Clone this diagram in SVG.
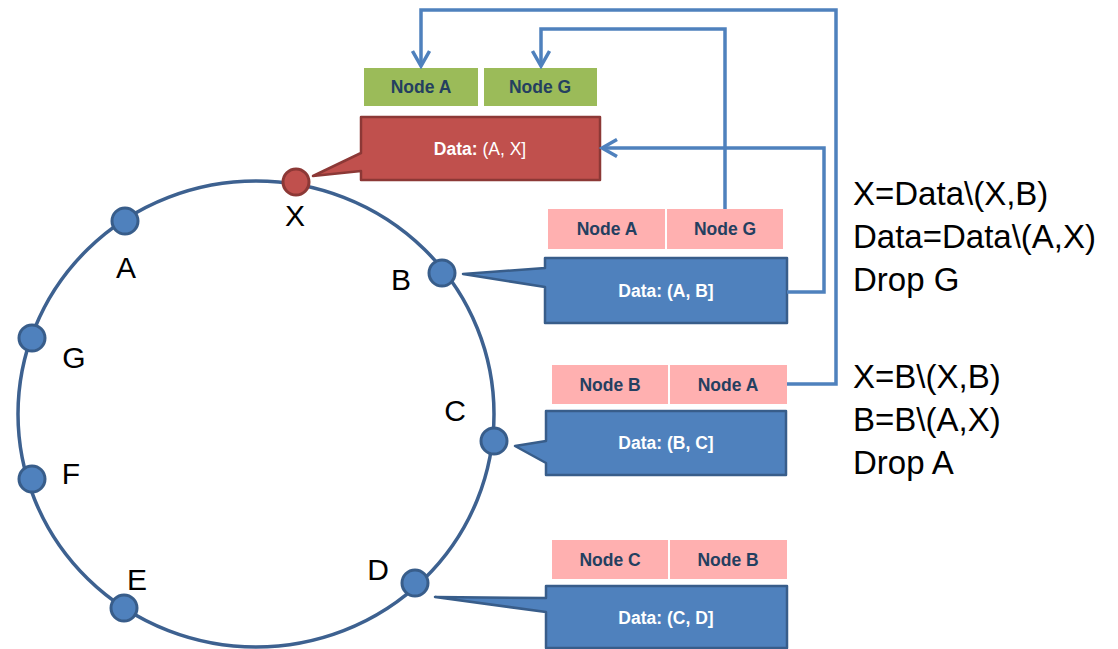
<svg xmlns="http://www.w3.org/2000/svg" width="1118" height="649" viewBox="0 0 1118 649">
<style>
.ring{fill:none;stroke:#3D6190;stroke-width:3.5}
.nd{fill:#4F81BD;stroke:#385D8A;stroke-width:3}
.ndx{fill:#C0504D;stroke:#8C3836;stroke-width:3}
.lbl{font-family:"Liberation Sans",Arial,sans-serif;font-size:30px;fill:#000}
.note{font-family:"Liberation Sans",Arial,sans-serif;font-size:33px;fill:#000}
.green{fill:#9BBB59}
.pink{fill:#FFB0B0}
.tag{font-family:"Liberation Sans",Arial,sans-serif;font-size:17.5px;font-weight:bold;fill:#243F60;text-anchor:middle}
.blue{fill:#4F81BD;stroke:#385D8A;stroke-width:2.5;stroke-linejoin:round}
.red{fill:#C0504D;stroke:#8C3836;stroke-width:2.5;stroke-linejoin:round}
.dt{font-family:"Liberation Sans",Arial,sans-serif;font-size:17.5px;font-weight:bold;fill:#fff;text-anchor:middle}
.conn{fill:none;stroke:#4F81BD;stroke-width:3.5;stroke-linejoin:miter}
</style>
<defs>
<marker id="arr" viewBox="0 0 20 20" markerUnits="userSpaceOnUse" markerWidth="20" markerHeight="20" refX="17" refY="10" orient="auto">
<path d="M2,1.5 L17,10 L2,18.5" fill="none" stroke="#4F81BD" stroke-width="3.5"/>
</marker>
</defs>

<g id="ring">
<ellipse class="ring" cx="256" cy="414" rx="238" ry="233"/>
</g>

<g id="node-X"><circle class="ndx" cx="296" cy="182" r="13"/><text class="lbl" x="295" y="226" text-anchor="middle">X</text></g>
<g id="node-A"><circle class="nd" cx="125" cy="221" r="13"/><text class="lbl" x="126" y="278" text-anchor="middle">A</text></g>
<g id="node-G"><circle class="nd" cx="32" cy="338" r="13"/><text class="lbl" x="74" y="368" text-anchor="middle">G</text></g>
<g id="node-F"><circle class="nd" cx="32" cy="479" r="13"/><text class="lbl" x="71" y="484" text-anchor="middle">F</text></g>
<g id="node-E"><circle class="nd" cx="124" cy="608" r="13"/><text class="lbl" x="137" y="590" text-anchor="middle">E</text></g>
<g id="node-B"><circle class="nd" cx="442" cy="273" r="13"/><text class="lbl" x="401" y="290" text-anchor="middle">B</text></g>
<g id="node-C"><circle class="nd" cx="494" cy="441" r="13"/><text class="lbl" x="455" y="421" text-anchor="middle">C</text></g>
<g id="node-D"><circle class="nd" cx="415" cy="583" r="13"/><text class="lbl" x="378" y="580" text-anchor="middle">D</text></g>

<g id="box-X">
<rect class="green" x="364" y="68" width="114" height="38"/>
<text class="tag" x="421" y="93">Node A</text>
<rect class="green" x="484" y="68" width="113" height="38"/>
<text class="tag" x="540" y="93">Node G</text>
<path class="red" d="M361,117 H600 V180 H361 V171 L313,176 L361,153 Z"/>
<text class="dt" x="480" y="155">Data: <tspan font-weight="normal">(A, X]</tspan></text>
</g>

<g id="box-B">
<rect class="pink" x="548" y="209" width="117" height="40"/>
<text class="tag" x="607" y="235">Node A</text>
<rect class="pink" x="667" y="209" width="116" height="40"/>
<text class="tag" x="725" y="235">Node G</text>
<path class="blue" d="M545,258 H787 V323 H545 V287 L463,274 L545,268 Z"/>
<text class="dt" x="666" y="297">Data: (A, B]</text>
</g>

<g id="box-C">
<rect class="pink" x="552" y="365" width="116" height="39"/>
<text class="tag" x="610" y="391">Node B</text>
<rect class="pink" x="670" y="365" width="117" height="39"/>
<text class="tag" x="728" y="391">Node A</text>
<path class="blue" d="M546,411 H786 V475 H546 V463 L515,446 L546,441 Z"/>
<text class="dt" x="666" y="449">Data: (B, C]</text>
</g>

<g id="box-D">
<rect class="pink" x="552" y="540" width="116" height="39"/>
<text class="tag" x="610" y="566">Node C</text>
<rect class="pink" x="670" y="540" width="117" height="39"/>
<text class="tag" x="728" y="566">Node B</text>
<path class="blue" d="M546,586 H787 V648 H546 V612 L435,597 L546,598 Z"/>
<text class="dt" x="666" y="624">Data: (C, D]</text>
</g>

<g id="notes">
<text class="note" x="853" y="205">X=Data\(X,B)</text>
<text class="note" x="853" y="248">Data=Data\(A,X)</text>
<text class="note" x="853" y="291">Drop G</text>
<text class="note" x="853" y="388">X=B\(X,B)</text>
<text class="note" x="853" y="431">B=B\(A,X)</text>
<text class="note" x="853" y="474">Drop A</text>
</g>

<g id="connectors">
<path class="conn" d="M787,384 H836 V10 H421 V66" marker-end="url(#arr)"/>
<path class="conn" d="M725,209 V29 H541 V66" marker-end="url(#arr)"/>
<path class="conn" d="M787,292 H824 V148 H602" marker-end="url(#arr)"/>
</g>
</svg>
